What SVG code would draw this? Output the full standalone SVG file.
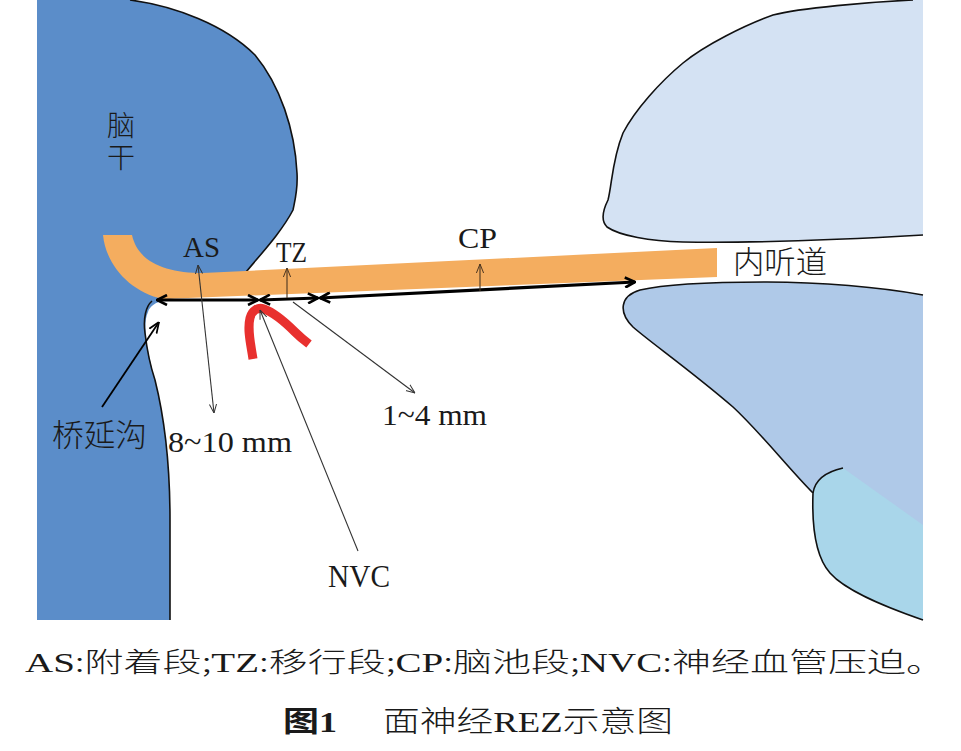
<svg xmlns="http://www.w3.org/2000/svg" width="961" height="751" viewBox="0 0 961 751">
<style>
.lat{font-family:"Liberation Serif","Times New Roman",serif;fill:#1a1a1a}
.cjk{font-family:"Noto Sans CJK SC","Noto Sans CJK JP",sans-serif;fill:#1a1a1a;font-weight:300}
.edge{fill:none;stroke:#111;stroke-width:1.6}
.thick{fill:none;stroke:#000;stroke-width:3.2}
.thin{fill:none;stroke:#333;stroke-width:1.1}
.brown{fill:none;stroke:#4a3520;stroke-width:1.1}
</style>
<defs>
<marker id="ahk" viewBox="0 0 12 12" refX="11" refY="6" markerWidth="12" markerHeight="12" markerUnits="userSpaceOnUse" orient="auto-start-reverse">
<path d="M1,1 L11,6 L1,11" fill="none" stroke="#000" stroke-width="2.6"/>
</marker>
<marker id="aht" viewBox="0 0 10 10" refX="10" refY="5" markerWidth="9" markerHeight="9" markerUnits="userSpaceOnUse" orient="auto-start-reverse">
<path d="M0,1 L10,5 L0,9" fill="none" stroke="#333" stroke-width="1.1"/>
</marker>
<marker id="ahb" viewBox="0 0 10 10" refX="10" refY="5" markerWidth="9" markerHeight="9" markerUnits="userSpaceOnUse" orient="auto-start-reverse">
<path d="M0,1 L10,5 L0,9" fill="none" stroke="#4a3520" stroke-width="1.1"/>
</marker>
<marker id="ahm" viewBox="0 0 10 10" refX="10" refY="5" markerWidth="11" markerHeight="11" markerUnits="userSpaceOnUse" orient="auto-start-reverse">
<path d="M0,1 L10,5 L0,9" fill="none" stroke="#000" stroke-width="1.6"/>
</marker>
</defs>
<rect width="961" height="751" fill="#fff"/>

<g id="brainstem">
<path d="M37,0 L130,0 C175,6 225,25 255,55 C280,85 295,130 297,173 C298,190 295,200 293,210 C280,235 255,260 238,282 L200,295 C170,298 152,300 148,312 C142,325 147,350 155,380 C165,420 170,470 170,520 L170,620 L37,620 Z" fill="#5b8dc9"/>
<path class="edge" d="M130,0 C175,6 225,25 255,55 C280,85 295,130 297,173 C298,190 295,200 293,210 C280,235 255,260 238,282"/>
<path class="edge" d="M152,301 C146,306 143,318 145,333 C147,350 150,365 155,380 C165,420 170,470 170,520 L170,620"/>
<text class="cjk" x="121" y="111" font-size="28" writing-mode="vertical-rl" letter-spacing="4">脑干</text>
</g>

<g id="bone-top">
<path d="M923,0 L913,0 C870,2 800,8 773,15 C745,25 705,45 683,63 C660,82 635,110 623,133 C612,160 612,185 608,200 C603,210 600,220 607,227 C620,236 650,241 683,242 C740,243 800,242 923,235 Z" fill="#d4e2f3"/>
<path class="edge" d="M913,0 C870,2 800,8 773,15 C745,25 705,45 683,63 C660,82 635,110 623,133 C612,160 612,185 608,200 C603,210 600,220 607,227 C620,236 650,241 683,242 C740,243 800,242 923,235"/>
</g>

<g id="bone-bottom">
<path d="M923,295 C880,287 820,282 767,282 C720,282 670,283 640,290 C620,296 618,312 633,327 C650,342 690,370 733,407 C760,432 790,470 813,493 C812,520 814,555 830,573 C845,590 880,605 923,620 Z" fill="#afc9e8"/>
<path d="M843,468 C825,472 815,480 813,493 C812,520 814,555 830,573 C845,590 880,605 923,620 L923,525 Z" fill="#a9d6ea"/>
<path class="edge" d="M923,295 C880,287 820,282 767,282 C720,282 670,283 640,290 C620,296 618,312 633,327 C650,342 690,370 733,407 C760,432 790,470 813,493 C812,520 814,555 830,573 C845,590 880,605 923,620"/>
<path class="edge" d="M843,468 C825,472 815,480 813,493"/>
</g>

<g id="facial-nerve">
<path d="M103,235 L132,235 C138,262 165,273 203,273 L717,248 L717,277 L163,299 C130,292 106,265 103,235 Z" fill="#f4ad5f"/>
</g>

<g id="vessel">
<path d="M253,359 C251,345 247,330 250,318 C252,310 258,307 264,309 C275,313 285,322 295,332 C300,337 305,341 309,344" fill="none" stroke="#e8302e" stroke-width="9" stroke-linecap="butt"/>
</g>

<g id="connectors">
<line class="thick" x1="157" y1="300" x2="258" y2="300" marker-start="url(#ahk)" marker-end="url(#ahk)"/>
<line class="thick" x1="260" y1="300" x2="318" y2="298" marker-start="url(#ahk)" marker-end="url(#ahk)"/>
<line class="thick" x1="320" y1="298" x2="635" y2="282" marker-start="url(#ahk)" marker-end="url(#ahk)"/>
<line class="thin" x1="198" y1="265" x2="214" y2="413" marker-start="url(#aht)" marker-end="url(#aht)"/>
<line class="brown" x1="287" y1="298" x2="287" y2="268" marker-end="url(#ahb)"/>
<line class="brown" x1="480" y1="291" x2="480" y2="264" marker-end="url(#ahb)"/>
<line class="thin" x1="293" y1="302" x2="415" y2="393" marker-end="url(#aht)"/>
<line class="thin" x1="358" y1="551" x2="260" y2="310" marker-end="url(#aht)"/>
<line x1="102" y1="407" x2="159" y2="322" stroke="#000" stroke-width="1.8" marker-end="url(#ahm)"/>
</g>

<g id="labels">
<text class="lat" x="183" y="257" font-size="30" textLength="37" lengthAdjust="spacingAndGlyphs">AS</text>
<text class="lat" x="276" y="262" font-size="30" textLength="31" lengthAdjust="spacingAndGlyphs">TZ</text>
<text class="lat" x="458" y="248" font-size="30" textLength="39" lengthAdjust="spacingAndGlyphs">CP</text>
<text class="cjk" x="733" y="273" font-size="31" textLength="94" lengthAdjust="spacingAndGlyphs">内听道</text>
<text class="cjk" x="52" y="446" font-size="31" textLength="95" lengthAdjust="spacingAndGlyphs">桥延沟</text>
<text class="lat" x="168" y="452" font-size="30" textLength="124" lengthAdjust="spacingAndGlyphs">8~10 mm</text>
<text class="lat" x="382" y="425" font-size="30" textLength="105" lengthAdjust="spacingAndGlyphs">1~4 mm</text>
<text class="lat" x="328" y="587" font-size="31" textLength="62" lengthAdjust="spacingAndGlyphs">NVC</text>
</g>

<g id="caption">
<text x="25" y="672" font-size="27" textLength="920" lengthAdjust="spacingAndGlyphs" class="cjk"><tspan class="lat">AS</tspan>:附着段;<tspan class="lat">TZ</tspan>:移行段;<tspan class="lat">CP</tspan>:脑池段;<tspan class="lat">NVC</tspan>:神经血管压迫。</text>
<text x="283" y="732" font-size="29" class="cjk" style="font-weight:700" textLength="54" lengthAdjust="spacingAndGlyphs">图<tspan class="lat" style="font-weight:700">1</tspan></text>
<text x="383" y="732" font-size="29" class="cjk" textLength="290" lengthAdjust="spacingAndGlyphs">面神经<tspan class="lat">REZ</tspan>示意图</text>
</g>
</svg>
